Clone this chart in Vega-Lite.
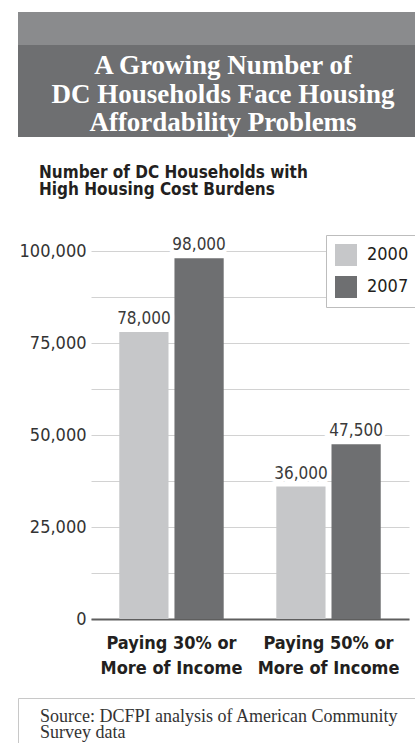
{
  "$schema": "https://vega.github.io/schema/vega-lite/v6.json",
  "padding": {"left": 17, "top": 12, "right": 0, "bottom": 0},
  "background": "white",
  "config": {"view": {"stroke": null}},
  "datasets": {
    "households": [
      {"category": "Paying 30% or\nMore of Income", "year": "2000", "households": 78000},
      {"category": "Paying 30% or\nMore of Income", "year": "2007", "households": 98000},
      {"category": "Paying 50% or\nMore of Income", "year": "2000", "households": 36000},
      {"category": "Paying 50% or\nMore of Income", "year": "2007", "households": 47500}
    ]
  },
  "spacing": 26,
  "resolve": {"legend": {"color": "independent"}, "scale": {"color": "independent"}},
  "vconcat": [
    {
      "vconcat": [
        {
          "width": 398,
          "height": 33,
          "view": {"fill": "#8a8b8d", "stroke": null},
          "data": {"values": []},
          "mark": "text"
        },
        {
          "width": 398,
          "height": 92,
          "view": {"fill": "#6e6f71", "stroke": null},
          "data": {"values": [{"headline": "A Growing Number of\nDC Households Face Housing\nAffordability Problems"}]},
          "mark": {"type": "text", "lineBreak": "\n", "font": "Liberation Serif", "fontWeight": "bold", "fontSize": 27, "lineHeight": 28.5, "color": "white", "baseline": "middle", "align": "center", "dx": 6, "dy": -25},
          "encoding": {"text": {"field": "headline"}}
        }
      ],
      "spacing": 0
    },
    {
      "spacing": 20,
      "resolve": {"legend": {"color": "independent"}},
      "vconcat": [
        {
          "title": {
            "text": ["Number of DC Households with", "High Housing Cost Burdens"],
            "anchor": "start",
            "frame": "bounds",
            "font": "DejaVu Sans Condensed",
            "fontSize": 17,
            "fontWeight": "bold",
            "color": "#231f20",
            "lineHeight": 17,
            "offset": 36,
            "dx": 21
          },
          "spacing": 0,
          "resolve": {"legend": {"color": "independent"}},
          "hconcat": [
            {
              "width": 73,
              "height": 368,
              "data": {"name": "households"},
              "mark": {"type": "tick", "opacity": 0},
              "encoding": {
                "y": {
                  "field": "households",
                  "type": "quantitative",
                  "scale": {"domain": [0, 100000]},
                  "axis": {
                    "orient": "left",
                    "offset": -73,
                    "title": null,
                    "values": [0, 25000, 50000, 75000, 100000],
                    "labelExpr": "format(datum.value, ',')",
                    "grid": false,
                    "domain": false,
                    "ticks": false,
                    "labelPadding": 5,
                    "labelFont": "DejaVu Sans Condensed",
                    "labelFontSize": 18,
                    "labelColor": "#333333",
                    "minExtent": 0
                  }
                }
              }
            },
            {
              "width": 318,
              "height": 368,
              "data": {"name": "households"},
              "encoding": {
                "x": {
                  "field": "category",
                  "type": "nominal",
                  "sort": null,
                  "scale": {"paddingInner": 0.335, "paddingOuter": 0.18},
                  "axis": {
                    "title": null,
                    "labelAngle": 0,
                    "labelExpr": "split(datum.label, '\\n')",
                    "labelFont": "DejaVu Sans Condensed",
                    "labelFontWeight": "bold",
                    "labelFontSize": 18,
                    "labelColor": "#231f20",
                    "labelLineHeight": 25,
                    "labelPadding": 15,
                    "ticks": false,
                    "domain": true,
                    "domainColor": "#5e5e5e",
                    "domainWidth": 2
                  }
                },
                "xOffset": {"field": "year", "type": "nominal", "scale": {"paddingInner": 0.108}},
                "y": {
                  "field": "households",
                  "type": "quantitative",
                  "scale": {"domain": [0, 100000]},
                  "axis": {
                    "title": null,
                    "values": [0, 12500, 25000, 37500, 50000, 62500, 75000, 87500, 100000],
                    "labels": false,
                    "grid": true,
                    "gridColor": "#d2d2d2",
                    "gridWidth": 1,
                    "domain": false,
                    "ticks": false,
                    "minExtent": 0,
                    "maxExtent": 0
                  }
                }
              },
              "layer": [
                {
                  "mark": {"type": "bar"},
                  "encoding": {
                    "color": {
                      "field": "year",
                      "type": "nominal",
                      "scale": {"domain": ["2000", "2007"], "range": ["#c6c7c9", "#6e6f71"]},
                      "legend": {
                        "title": null,
                        "orient": "none",
                        "legendX": 235,
                        "legendY": -16,
                        "fillColor": "white",
                        "strokeColor": "#bdbdbd",
                        "padding": 9,
                        "symbolType": "square",
                        "symbolSize": 484,
                        "symbolStrokeWidth": 0,
                        "symbolOpacity": 1,
                        "labelFont": "DejaVu Sans Condensed",
                        "labelFontSize": 18,
                        "labelColor": "#231f20",
                        "labelOffset": 10,
                        "rowPadding": 10,
                        "direction": "vertical"
                      }
                    }
                  }
                },
                {
                  "mark": {"type": "text", "baseline": "alphabetic", "dy": -8, "font": "DejaVu Sans Condensed", "fontSize": 17, "fill": "white", "stroke": "white", "strokeWidth": 8},
                  "encoding": {"text": {"field": "households", "type": "quantitative", "format": ","}}
                },
                {
                  "mark": {"type": "text", "baseline": "alphabetic", "dy": -8, "font": "DejaVu Sans Condensed", "fontSize": 17, "color": "#3a3a3a"},
                  "encoding": {"text": {"field": "households", "type": "quantitative", "format": ","}}
                }
              ]
            }
          ]
        },
        {
          "width": 398,
          "height": 46,
          "view": {"stroke": "#c8c8c8", "strokeWidth": 1, "fill": null},
          "data": {"values": [{"source": "Source: DCFPI analysis of American Community\nSurvey data"}]},
          "mark": {"type": "text", "lineBreak": "\n", "align": "left", "baseline": "top", "dx": -177, "dy": -13, "font": "Liberation Serif", "fontSize": 18, "lineHeight": 15.5, "color": "#333333"},
          "encoding": {"text": {"field": "source"}}
        }
      ]
    }
  ]
}
